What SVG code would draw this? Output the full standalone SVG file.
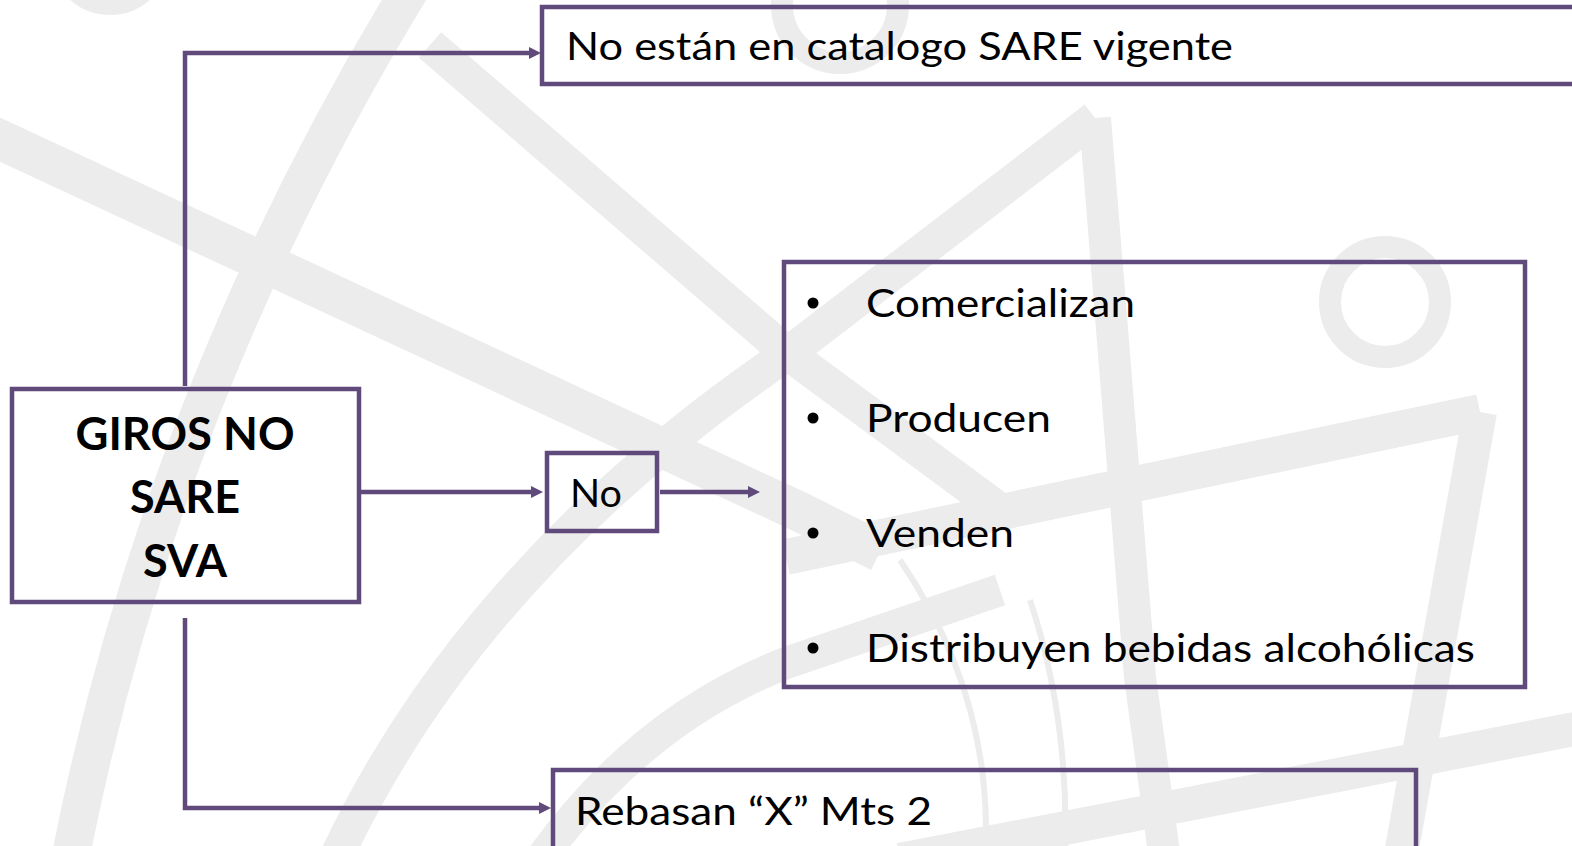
<svg xmlns="http://www.w3.org/2000/svg" width="1572" height="846" viewBox="0 0 1572 846">
<style>
.wm{fill:none;stroke:#ececec;stroke-linecap:butt;stroke-linejoin:round}
.box{fill:none;stroke:#604a7b;stroke-width:4.5}
.conn{fill:none;stroke:#604a7b;stroke-width:4.5}
.t{font-family:Lato,"Open Sans","Liberation Sans",sans-serif;fill:#000}
.tb{font-family:Lato,"Open Sans","Liberation Sans",sans-serif;font-weight:bold;fill:#000;text-anchor:middle}
</style>
<defs>
<marker id="arr" markerUnits="userSpaceOnUse" markerWidth="14" markerHeight="14" refX="4" refY="7" orient="auto">
<path d="M0,1 L12,7 L0,13 z" fill="#604a7b"/>
</marker>
</defs>
<rect width="1572" height="846" fill="#ffffff"/>
<g id="watermark">
<circle class="wm" cx="110" cy="-45" r="50" stroke-width="20"/>
<circle class="wm" cx="840" cy="5" r="58" stroke-width="22"/>
<circle class="wm" cx="1385" cy="302" r="55" stroke-width="22"/>
<path class="wm" d="M410,-10 Q160,400 70,860" stroke-width="38"/>
<path class="wm" d="M-10,135 L800,512 L880,552" stroke-width="40"/>
<path class="wm" d="M430,45 L786,352 L1000,510" stroke-width="34"/>
<path class="wm" d="M1095,118 L786,355 Q470,570 335,860" stroke-width="34"/>
<path class="wm" d="M1095,118 L1140,677 L1165,860" stroke-width="32"/>
<path class="wm" d="M540,860 Q640,720 786,663 L1000,590" stroke-width="32"/>
<path class="wm" d="M786,557 L1480,412" stroke-width="36"/>
<path class="wm" d="M1480,412 L1400,860" stroke-width="34"/>
<path class="wm" d="M900,860 L1580,728" stroke-width="34"/>
<path class="wm" d="M900,560 Q995,700 985,860" stroke-width="6"/>
<path class="wm" d="M1030,600 Q1070,720 1065,860" stroke-width="6"/>
</g>
<g id="connectors">
<path class="conn" d="M185,386 V53 H533" marker-end="url(#arr)"/>
<path class="conn" d="M360,492 H535" marker-end="url(#arr)"/>
<path class="conn" d="M660,492 H752" marker-end="url(#arr)"/>
<path class="conn" d="M185,618 V808 H543" marker-end="url(#arr)"/>
</g>
<g id="node-catalogo">
<rect class="box" x="542" y="7" width="1045" height="77"/>
<text class="t" x="566" y="60" font-size="39" textLength="667" lengthAdjust="spacingAndGlyphs">No están en catalogo SARE vigente</text>
</g>
<g id="node-giros">
<rect class="box" x="12" y="389" width="347" height="213"/>
<text class="tb" x="185" y="450" font-size="46" textLength="219" lengthAdjust="spacingAndGlyphs">GIROS NO</text>
<text class="tb" x="185" y="513" font-size="46" textLength="110" lengthAdjust="spacingAndGlyphs">SARE</text>
<text class="tb" x="185" y="577" font-size="46" textLength="84" lengthAdjust="spacingAndGlyphs">SVA</text>
</g>
<g id="node-no">
<rect class="box" x="547" y="453" width="110" height="78"/>
<text class="t" x="570" y="507" font-size="39" textLength="52" lengthAdjust="spacingAndGlyphs">No</text>
</g>
<g id="node-actividades">
<rect class="box" x="784" y="262" width="741" height="425"/>
<circle cx="813" cy="303" r="5.5" fill="#000"/>
<circle cx="813" cy="418" r="5.5" fill="#000"/>
<circle cx="813" cy="533" r="5.5" fill="#000"/>
<circle cx="813" cy="648" r="5.5" fill="#000"/>
<text class="t" x="866" y="317" font-size="39" textLength="269" lengthAdjust="spacingAndGlyphs">Comercializan</text>
<text class="t" x="866" y="432" font-size="39" textLength="185" lengthAdjust="spacingAndGlyphs">Producen</text>
<text class="t" x="866" y="547" font-size="39" textLength="148" lengthAdjust="spacingAndGlyphs">Venden</text>
<text class="t" x="866" y="662" font-size="39" textLength="609" lengthAdjust="spacingAndGlyphs">Distribuyen bebidas alcohólicas</text>
</g>
<g id="node-rebasan">
<rect class="box" x="553" y="770" width="863" height="100"/>
<text class="t" x="575" y="825" font-size="39" textLength="357" lengthAdjust="spacingAndGlyphs">Rebasan “X” Mts 2</text>
</g>
</svg>
